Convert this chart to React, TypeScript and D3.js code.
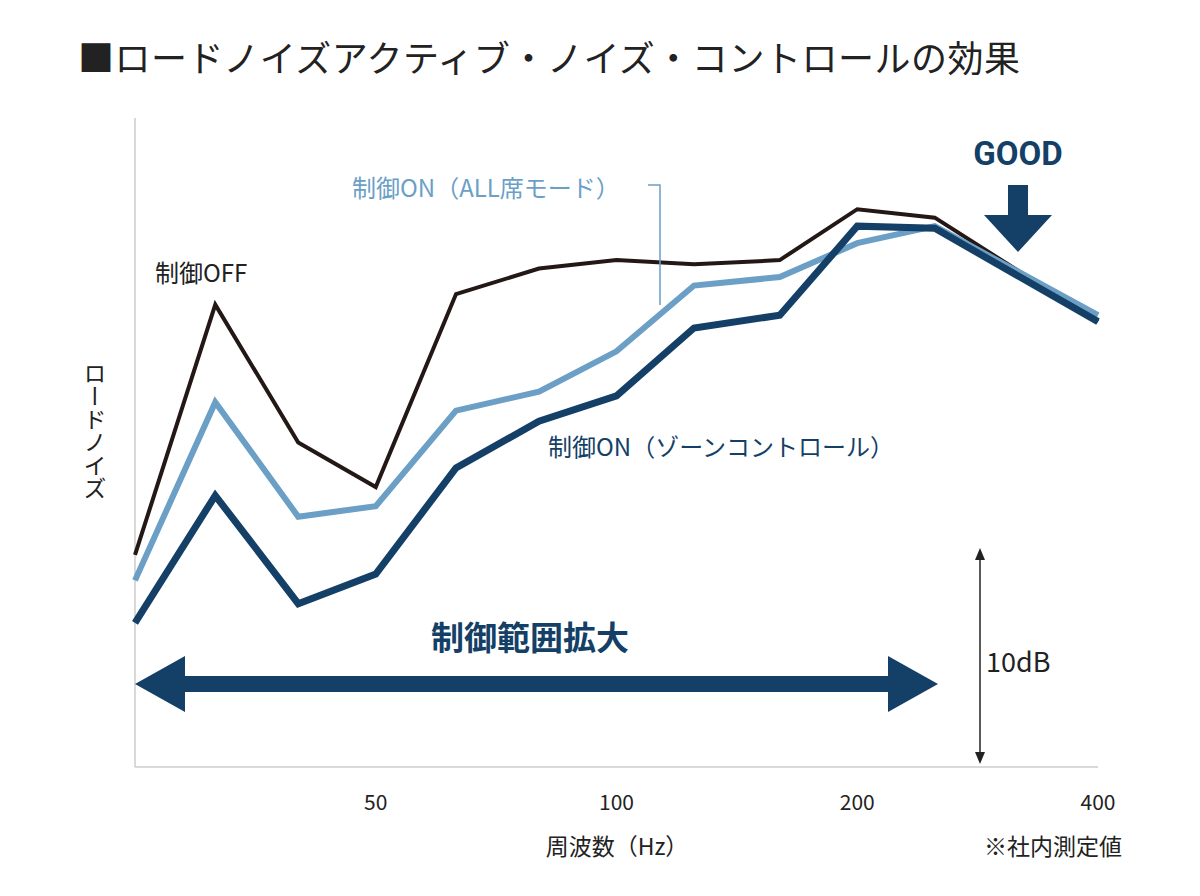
import React from 'react';
import * as d3 from 'd3';

const FREQS = [25, 31.5, 40, 50, 63, 80, 100, 125, 160, 200, 250, 400];
const OFF = [10.0, 21.8, 15.3, 13.2, 22.3, 23.5, 23.9, 23.7, 23.9, 26.3, 25.9, 21.0];
const ON_ALL = [8.8, 17.2, 11.8, 12.3, 16.8, 17.7, 19.6, 22.7, 23.1, 24.7, 25.5, 21.3];
const ON_ZONE = [6.8, 12.8, 7.7, 9.1, 14.1, 16.3, 17.5, 20.7, 21.3, 25.5, 25.4, 21.0];
const X_TICKS = [50, 100, 200, 400];

const DARK = '#143f66';
const LIGHT = '#6b9fc6';
const BLACK = '#231815';
const FONT = '"Noto Sans CJK JP", "Noto Sans", sans-serif';

const App: React.FC = () => {
  const x = d3.scaleLog().domain([25, 400]).range([135, 1098]);
  const y = d3.scaleLinear().domain([0, 30.6]).range([767, 118]);
  const line = (vals: number[]) =>
    d3.line<number>().x((_, i) => x(FREQS[i])).y(d => y(d))(vals) || '';

  return (
    <svg width={1200} height={896} style={{ position: 'absolute', left: 0, top: 0, background: '#fff' }} fontFamily={FONT}>
      <text x={78} y={72} fontSize={36} fill="#222" textLength={942} lengthAdjust="spacing">■ロードノイズアクティブ・ノイズ・コントロールの効果</text>
      <line x1={135} y1={118} x2={135} y2={767} stroke="#ccc" strokeWidth={1.5} />
      <line x1={135} y1={767} x2={1098} y2={767} stroke="#ccc" strokeWidth={1.5} />
      {X_TICKS.map(t => (
        <text key={t} x={x(t)} y={810} fontSize={21} textAnchor="middle" fill="#222">{t}</text>
      ))}
      <text x={617} y={855} fontSize={23} textAnchor="middle" fill="#222">周波数（Hz）</text>
      <text x={1122} y={855} fontSize={23} textAnchor="end" fill="#222">※社内測定値</text>
      <text x={95} y={362} fontSize={23} fill="#222" style={{ writingMode: 'vertical-rl' } as any}>ロードノイズ</text>

      <path d={line(OFF)} fill="none" stroke={BLACK} strokeWidth={4} />
      <path d={line(ON_ALL)} fill="none" stroke={LIGHT} strokeWidth={6} />
      <path d={line(ON_ZONE)} fill="none" stroke={DARK} strokeWidth={7} />

      <text x={155} y={282} fontSize={24} fill="#222">制御OFF</text>
      <text x={352} y={197} fontSize={24} fill={LIGHT}>制御ON（ALL席モード）</text>
      <polyline points="648,185 660,185 660,305" fill="none" stroke={LIGHT} strokeWidth={1.5} />
      <text x={548} y={456} fontSize={24} fill={DARK}>制御ON（ゾーンコントロール）</text>

      <text x={1018} y={165} fontSize={33} fontWeight="bold" textAnchor="middle" fill={DARK} fontFamily="Roboto, sans-serif">GOOD</text>
      <polygon points="1008,185 1028,185 1028,215 1052,215 1018,252 984,215 1008,215" fill={DARK} />

      <text x={530} y={650} fontSize={33} fontWeight="bold" textAnchor="middle" fill={DARK}>制御範囲拡大</text>
      <polygon points="135,684 185,656 185,676 888,676 888,656 938,684 888,712 888,692 185,692 185,712" fill={DARK} />

      <line x1={980} y1={556} x2={980} y2={756} stroke="#222" strokeWidth={1.5} />
      <polygon points="980,548 975,560 985,560" fill="#222" />
      <polygon points="980,764 975,752 985,752" fill="#222" />
      <text x={986} y={672} fontSize={27} fill="#222">10dB</text>
    </svg>
  );
};

export default App;
